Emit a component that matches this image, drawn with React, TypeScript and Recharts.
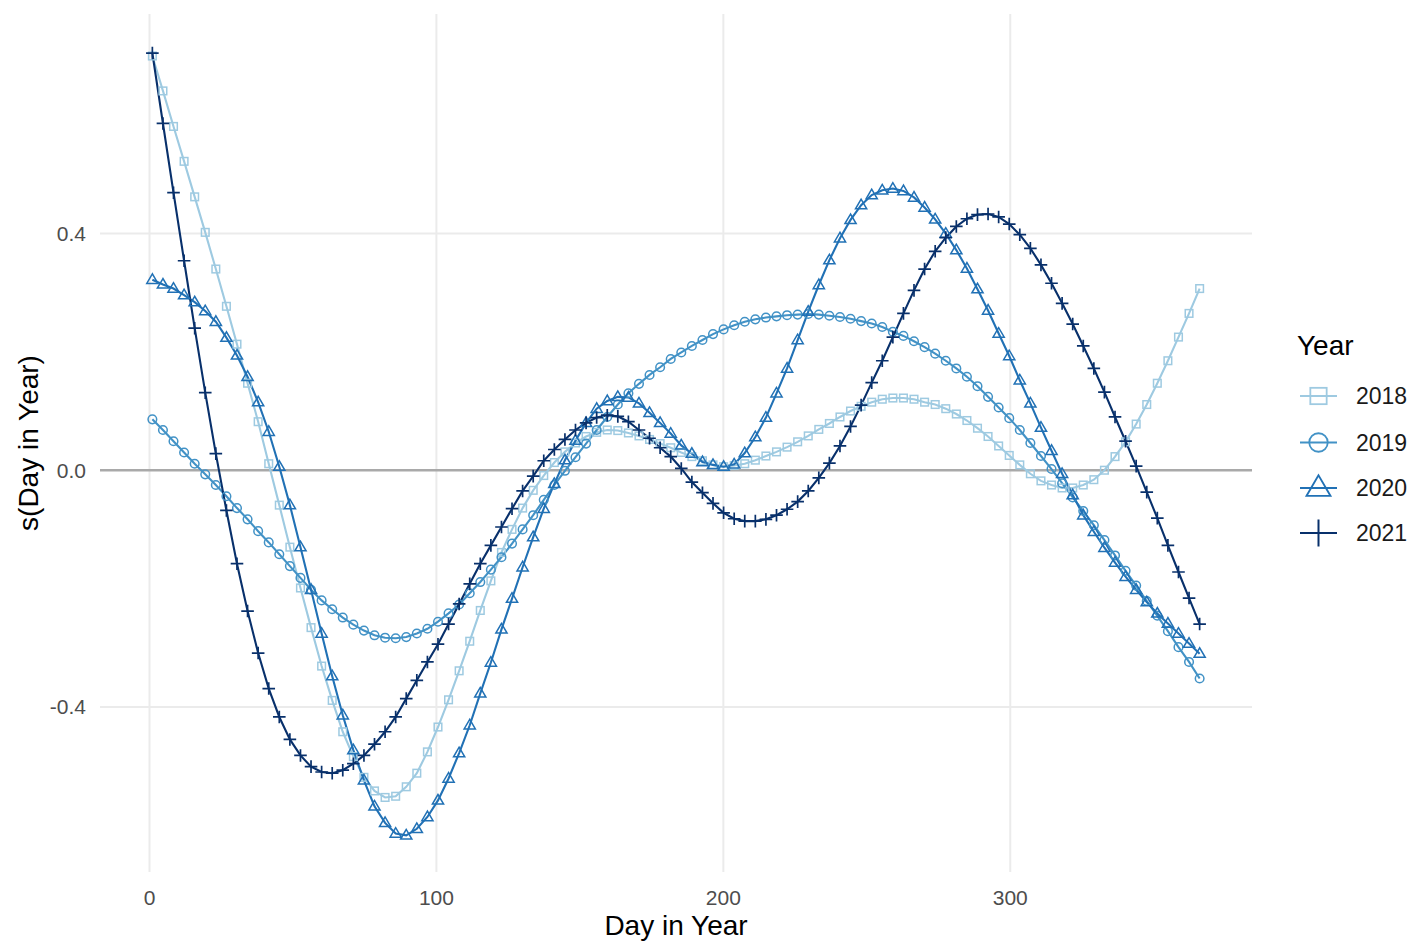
import React from 'react';
import { LineChart, Line, XAxis, YAxis, ReferenceLine } from 'recharts';

const DAYS = [
  1, 4.69, 8.37, 12.06, 15.75, 19.43, 23.12, 26.81, 30.49, 34.18,
  37.87, 41.56, 45.24, 48.93, 52.62, 56.3, 59.99, 63.68, 67.36, 71.05,
  74.74, 78.42, 82.11, 85.8, 89.48, 93.17, 96.86, 100.55, 104.23, 107.92,
  111.61, 115.29, 118.98, 122.67, 126.35, 130.04, 133.73, 137.41, 141.1, 144.79,
  148.47, 152.16, 155.85, 159.54, 163.22, 166.91, 170.6, 174.28, 177.97, 181.66,
  185.34, 189.03, 192.72, 196.4, 200.09, 203.78, 207.46, 211.15, 214.84, 218.53,
  222.21, 225.9, 229.59, 233.27, 236.96, 240.65, 244.33, 248.02, 251.71, 255.39,
  259.08, 262.77, 266.45, 270.14, 273.83, 277.52, 281.2, 284.89, 288.58, 292.26,
  295.95, 299.64, 303.32, 307.01, 310.7, 314.38, 318.07, 321.76, 325.44, 329.13,
  332.82, 336.51, 340.19, 343.88, 347.57, 351.25, 354.94, 358.63, 362.31, 366,
];

const S2018 = [
  0.700, 0.641, 0.581, 0.522, 0.462, 0.402, 0.340, 0.277, 0.213, 0.147,
  0.082, 0.011, -0.059, -0.130, -0.199, -0.266, -0.331, -0.389, -0.442, -0.484,
  -0.519, -0.542, -0.553, -0.551, -0.535, -0.512, -0.476, -0.434, -0.388, -0.339,
  -0.289, -0.237, -0.187, -0.139, -0.100, -0.064, -0.034, -0.009, 0.013, 0.031,
  0.046, 0.057, 0.064, 0.068, 0.067, 0.063, 0.058, 0.052, 0.045, 0.038,
  0.030, 0.023, 0.016, 0.009, 0.006, 0.008, 0.011, 0.017, 0.024, 0.031,
  0.039, 0.048, 0.058, 0.069, 0.079, 0.090, 0.100, 0.108, 0.115, 0.120,
  0.122, 0.122, 0.120, 0.115, 0.111, 0.104, 0.095, 0.084, 0.071, 0.057,
  0.041, 0.025, 0.009, -0.006, -0.018, -0.025, -0.030, -0.030, -0.025, -0.016,
  0.000, 0.023, 0.048, 0.078, 0.111, 0.147, 0.185, 0.225, 0.265, 0.307,
];

const S2019 = [
  0.086, 0.068, 0.049, 0.030, 0.011, -0.007, -0.025, -0.044, -0.064, -0.083,
  -0.103, -0.122, -0.142, -0.162, -0.182, -0.202, -0.220, -0.235, -0.249, -0.261,
  -0.271, -0.279, -0.283, -0.284, -0.282, -0.276, -0.268, -0.256, -0.242, -0.227,
  -0.208, -0.189, -0.168, -0.147, -0.124, -0.100, -0.076, -0.050, -0.025, -0.001,
  0.022, 0.045, 0.068, 0.090, 0.111, 0.130, 0.146, 0.161, 0.174, 0.188,
  0.199, 0.210, 0.220, 0.230, 0.238, 0.245, 0.251, 0.255, 0.258, 0.260,
  0.262, 0.263, 0.264, 0.263, 0.261, 0.259, 0.256, 0.252, 0.248, 0.242,
  0.234, 0.227, 0.218, 0.208, 0.197, 0.185, 0.172, 0.158, 0.142, 0.124,
  0.106, 0.088, 0.068, 0.046, 0.024, 0.002, -0.022, -0.046, -0.069, -0.093,
  -0.118, -0.144, -0.170, -0.195, -0.221, -0.246, -0.272, -0.299, -0.324, -0.352,
];

const S2020 = [
  0.322, 0.314, 0.307, 0.296, 0.284, 0.269, 0.251, 0.224, 0.194, 0.158,
  0.115, 0.065, 0.006, -0.059, -0.130, -0.202, -0.276, -0.348, -0.414, -0.473,
  -0.524, -0.568, -0.596, -0.614, -0.617, -0.606, -0.586, -0.558, -0.521, -0.478,
  -0.431, -0.377, -0.325, -0.269, -0.217, -0.164, -0.113, -0.065, -0.023, 0.017,
  0.050, 0.080, 0.104, 0.117, 0.124, 0.123, 0.113, 0.097, 0.080, 0.062,
  0.042, 0.028, 0.014, 0.009, 0.006, 0.010, 0.029, 0.056, 0.089, 0.130,
  0.172, 0.220, 0.268, 0.313, 0.355, 0.392, 0.423, 0.448, 0.465, 0.473,
  0.476, 0.472, 0.461, 0.444, 0.424, 0.400, 0.372, 0.341, 0.306, 0.270,
  0.231, 0.193, 0.152, 0.113, 0.072, 0.033, -0.006, -0.042, -0.076, -0.104,
  -0.131, -0.156, -0.180, -0.202, -0.223, -0.242, -0.259, -0.276, -0.293, -0.310,
];

const S2021 = [
  0.705, 0.586, 0.469, 0.354, 0.240, 0.131, 0.028, -0.068, -0.158, -0.238,
  -0.309, -0.369, -0.417, -0.455, -0.482, -0.501, -0.510, -0.512, -0.507, -0.496,
  -0.482, -0.463, -0.442, -0.417, -0.386, -0.355, -0.324, -0.294, -0.260, -0.226,
  -0.192, -0.158, -0.127, -0.096, -0.065, -0.035, -0.010, 0.016, 0.035, 0.052,
  0.068, 0.080, 0.089, 0.093, 0.091, 0.082, 0.068, 0.054, 0.038, 0.023,
  0.003, -0.020, -0.038, -0.056, -0.072, -0.082, -0.086, -0.086, -0.083, -0.076,
  -0.066, -0.053, -0.035, -0.013, 0.012, 0.041, 0.074, 0.110, 0.148, 0.185,
  0.225, 0.265, 0.304, 0.340, 0.370, 0.393, 0.412, 0.425, 0.432, 0.433,
  0.428, 0.416, 0.398, 0.375, 0.347, 0.316, 0.282, 0.247, 0.210, 0.172,
  0.132, 0.090, 0.049, 0.007, -0.037, -0.081, -0.127, -0.172, -0.216, -0.260,
];

const YEARS = ['2018', '2019', '2020', '2021'];
const SERIES = [S2018, S2019, S2020, S2021];
const COLORS = ['#9ecae1', '#4292c6', '#2171b5', '#08306b'];
const SHAPES = ['square', 'circle', 'triangle', 'plus'];
const X_TICKS = [0, 100, 200, 300];
const Y_TICKS = [-0.4, 0, 0.4];

const X_TITLE = 'Day in Year';
const Y_TITLE = 's(Day in Year)';
const LEGEND_TITLE = 'Year';

const FONT = '"Liberation Sans", Arial, Helvetica, sans-serif';

const data = DAYS.map((d, i) => {
  const row: Record<string, number> = { day: d };
  YEARS.forEach((y, k) => {
    row['y' + y] = SERIES[k][i];
  });
  return row;
});

function Marker({ shape, cx, cy, color, s = 1, sw = 1.5 }: any) {
  if (cx == null || cy == null) return null;
  if (shape === 'square') {
    const h = 3.8 * s;
    return <rect x={cx - h} y={cy - h} width={2 * h} height={2 * h} fill="none" stroke={color} strokeWidth={sw} />;
  }
  if (shape === 'circle') {
    return <circle cx={cx} cy={cy} r={4.3 * s} fill="none" stroke={color} strokeWidth={sw} />;
  }
  if (shape === 'triangle') {
    const w = 5.6 * s;
    const pts = `${cx},${cy - 5.9 * s} ${cx - w},${cy + 3.7 * s} ${cx + w},${cy + 3.7 * s}`;
    return <polygon points={pts} fill="none" stroke={color} strokeWidth={sw} strokeLinejoin="miter" />;
  }
  const a = 6.3 * s;
  return (
    <path d={`M${cx - a},${cy}H${cx + a}M${cx},${cy - a}V${cy + a}`} fill="none" stroke={color} strokeWidth={sw + 0.2} />
  );
}

const YTick = (p: any) => (
  <text x={86} y={p.y} textAnchor="end" dominantBaseline="central" fontSize={21} fill="#4d4d4d" fontFamily={FONT}>
    {Number(p.payload.value).toFixed(1)}
  </text>
);

const XTick = (p: any) => (
  <text x={p.x} y={897} textAnchor="middle" dominantBaseline="central" fontSize={21} fill="#4d4d4d" fontFamily={FONT}>
    {p.payload.value}
  </text>
);

const XTitle = () => (
  <text x={676} y={935} textAnchor="middle" fontSize={28} fill="#000" fontFamily={FONT}>
    {X_TITLE}
  </text>
);

const YTitle = () => (
  <text x={28} y={443} textAnchor="middle" dominantBaseline="central" fontSize={28} fill="#000" fontFamily={FONT}
    transform="rotate(-90, 28, 443)">
    {Y_TITLE}
  </text>
);

function LegendBox() {
  const ys = [86, 132.5, 178, 223];
  return (
    <svg width={144} height={260} style={{ position: 'absolute', left: 1280, top: 310 }}>
      <text x={17} y={45} fontSize={28} fill="#000" fontFamily={FONT}>{LEGEND_TITLE}</text>
      {YEARS.map((y, k) => (
        <g key={y}>
          <line x1={20} x2={57} y1={ys[k]} y2={ys[k]} stroke={COLORS[k]} strokeWidth={2.2} />
          <Marker shape={SHAPES[k]} cx={38.5} cy={ys[k]} color={COLORS[k]} s={2.15} sw={1.8} />
          <text x={76} y={ys[k] + 8.3} fontSize={23} fill="#1a1a1a" fontFamily={FONT}>{y}</text>
        </g>
      ))}
    </svg>
  );
}

export default function App() {
  return (
    <div style={{ position: 'absolute', left: 0, top: 0, width: 1424, height: 944, background: '#fff', fontFamily: FONT }}>
      <LineChart width={1424} height={944} data={data} margin={{ top: 14, right: 172, bottom: 0, left: 0 }}>
        <XAxis
          type="number"
          dataKey="day"
          domain={[-17.25, 384.25]}
          allowDataOverflow
          ticks={X_TICKS}
          axisLine={false}
          tickLine={false}
          height={72}
          tick={XTick}
          label={<XTitle />}
        />
        <YAxis
          type="number"
          domain={[-0.679, 0.771]}
          allowDataOverflow
          ticks={Y_TICKS}
          axisLine={false}
          tickLine={false}
          width={100}
          tick={YTick}
          label={<YTitle />}
        />
        {X_TICKS.map((t) => (
          <ReferenceLine key={'gx' + t} x={t} stroke="#ebebeb" strokeWidth={2} />
        ))}
        {Y_TICKS.filter((t) => t !== 0).map((t) => (
          <ReferenceLine key={'gy' + t} y={t} stroke="#ebebeb" strokeWidth={2} />
        ))}
        <ReferenceLine y={0} stroke="#a9a9a9" strokeWidth={2.5} />
        {YEARS.map((y, k) => (
          <Line
            key={y}
            dataKey={'y' + y}
            type="linear"
            stroke={COLORS[k]}
            strokeWidth={2.1}
            isAnimationActive={false}
            activeDot={false}
            dot={(p: any) => (
              <Marker key={`${y}-${p.index}`} shape={SHAPES[k]} cx={p.cx} cy={p.cy} color={COLORS[k]} />
            )}
          />
        ))}
      </LineChart>
      <LegendBox />
    </div>
  );
}
